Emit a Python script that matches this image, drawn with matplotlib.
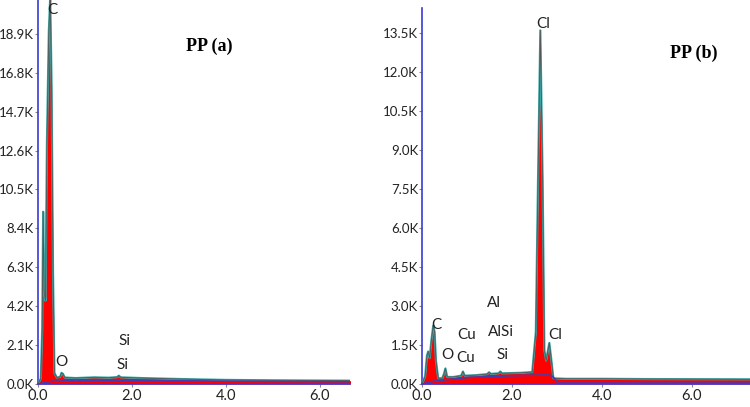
import matplotlib
matplotlib.use("Agg")
import matplotlib.pyplot as plt

# ---- data (keV, counts in K) ----
energy_a = [0.0, 0.06, 0.09, 0.11, 0.13, 0.16, 0.19, 0.23, 0.26, 0.29, 0.32, 0.35, 0.4,
            0.47, 0.5, 0.53, 0.57, 0.8, 1.2, 1.5, 1.68, 1.72, 1.76, 2.2, 3.0, 4.0, 5.0, 6.7]
counts_a = [0.0, 0.3, 3.0, 9.3, 5.0, 4.5, 13.0, 19.0, 20.9, 16.0, 6.0, 0.6, 0.35,
            0.38, 0.6, 0.55, 0.35, 0.32, 0.36, 0.34, 0.37, 0.45, 0.36, 0.32, 0.27, 0.22, 0.2, 0.18]
bg_energy_a = [0.0, 0.3, 1.0, 2.0, 4.0, 6.7]
bg_counts_a = [0.0, 0.15, 0.2, 0.2, 0.15, 0.12]

energy_b = [0.0, 0.07, 0.11, 0.14, 0.17, 0.21, 0.25, 0.28, 0.31, 0.36, 0.45, 0.49, 0.52,
            0.56, 0.7, 0.87, 0.91, 0.95, 1.2, 1.45, 1.49, 1.53, 1.7, 1.74, 1.78, 2.2,
            2.45, 2.53, 2.58, 2.63, 2.68, 2.72, 2.76, 2.8, 2.83, 2.87, 2.92, 3.2, 4.0,
            5.0, 7.3]
counts_b = [0.0, 0.3, 1.1, 1.25, 1.0, 1.7, 2.25, 2.0, 0.9, 0.22, 0.22, 0.4, 0.6,
            0.27, 0.27, 0.32, 0.48, 0.32, 0.34, 0.38, 0.45, 0.39, 0.41, 0.48, 0.41, 0.43,
            0.46, 2.0, 8.0, 13.6, 8.0, 1.3, 0.9, 1.3, 1.58, 1.0, 0.22, 0.2, 0.2,
            0.19, 0.18]
bg_energy_b = [0.0, 0.3, 1.0, 2.0, 2.8, 2.9, 3.0, 7.3]
bg_counts_b = [0.0, 0.12, 0.25, 0.32, 0.35, 0.3, 0.08, 0.08]

yticks_a = [0.0, 2.1, 4.2, 6.3, 8.4, 10.5, 12.6, 14.7, 16.8, 18.9]
yticks_b = [0.0, 1.5, 3.0, 4.5, 6.0, 7.5, 9.0, 10.5, 12.0, 13.5]
xticks = [0.0, 2.0, 4.0, 6.0]

labels_a = [("C", 0.3, 20.2), ("O", 0.5, 1.2), ("Si", 1.85, 2.3), ("Si", 1.8, 1.0)]
labels_b = [("Cl", 2.7, 13.85), ("Cl", 2.95, 1.9), ("C", 0.33, 2.25), ("O", 0.57, 1.1),
            ("Cu", 1.0, 1.9), ("Cu", 0.97, 1.0), ("Al", 1.6, 3.1), ("AlSi", 1.75, 2.0),
            ("Si", 1.79, 1.1)]

AXIS_BLUE = "#3a3ad6"
TEXT = "#222222"
FONT = "Lato"

fig = plt.figure(figsize=(7.5, 4.07), dpi=100)
ax_a = fig.add_axes([38 / 750, 23 / 407, 312 / 750, 384 / 407])
ax_b = fig.add_axes([422 / 750, 23 / 407, 328 / 750, 376 / 407])


def draw(ax, e, c, be, bc, xmax, ymax, yticks, labels, title, title_x):
    ax.fill_between(e, 0, c, color="#ff0000", lw=0, zorder=2)
    ax.plot(e, c, color="#3aa7a7", lw=1.6, zorder=3)
    ax.plot(e, c, color="#555555", lw=0.6, zorder=3)
    ax.plot(be, bc, color="#4a3ab0", lw=1.2, zorder=4)
    ax.set_xlim(0, xmax)
    ax.set_ylim(0, ymax)
    ax.set_xticks(xticks)
    ax.set_xticklabels([f"{v:.1f}" for v in xticks])
    ax.set_yticks(yticks)
    ax.set_yticklabels([f"{v:.1f}K" for v in yticks])
    for s in ("top", "right"):
        ax.spines[s].set_visible(False)
    for s in ("left", "bottom"):
        ax.spines[s].set_color(AXIS_BLUE)
        ax.spines[s].set_linewidth(1.2)
    ax.tick_params(length=2, width=0.8, color="#888888", labelsize=9.5,
                   labelcolor=TEXT, pad=0.8)
    ax.tick_params(axis="x", labelsize=10.5, pad=1.5)
    for t in ax.get_xticklabels() + ax.get_yticklabels():
        t.set_fontfamily(FONT)
    for txt, x, y in labels:
        ax.text(x, y, txt, fontsize=11, color=TEXT, family=FONT,
                ha="center", va="center", zorder=5)
    ax.text(title_x, 0.88, title, transform=ax.transAxes, fontsize=13,
            fontweight="bold", family="Liberation Serif", ha="center", va="center")


draw(ax_a, energy_a, counts_a, bg_energy_a, bg_counts_a, 6.64, 20.73,
     yticks_a, labels_a, "PP (a)", 0.55)
draw(ax_b, energy_b, counts_b, bg_energy_b, bg_counts_b, 7.29, 14.46,
     yticks_b, labels_b, "PP (b)", 0.83)

fig.savefig("out.png", dpi=100)
